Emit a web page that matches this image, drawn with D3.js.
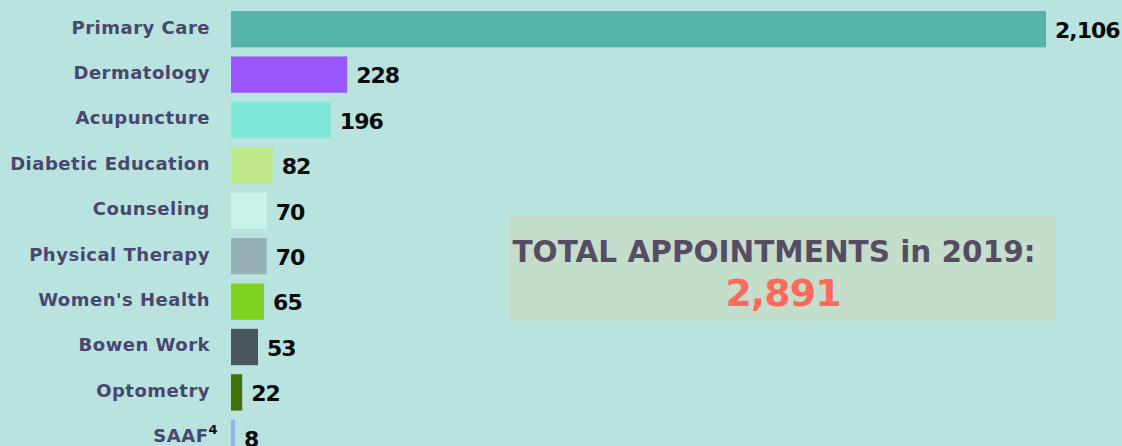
<!DOCTYPE html>
<html>
<head>
<meta charset="utf-8">
<script src="https://cdn.jsdelivr.net/npm/d3@7"></script>
<style>
  html, body { margin: 0; padding: 0; background: #b9e3de; }
  svg { display: block; }
</style>
</head>
<body>
<div id="chart"></div>
<script>
// appointments by service, 2019
const services = ['Primary Care', 'Dermatology', 'Acupuncture', 'Diabetic Education', 'Counseling',
  'Physical Therapy', "Women's Health", 'Bowen Work', 'Optometry', 'SAAF'];
const appointments = [2106, 228, 196, 82, 70, 70, 65, 53, 22, 8];
const barColors = ['#54b3aa', '#9a55fc', '#7de8da', '#bde98a', '#c9f3e9',
  '#95b1b5', '#7ed321', '#485559', '#437007', '#8fb4f0'];
const footnotes = { 'SAAF': '4' };
const totalLabel = 'TOTAL APPOINTMENTS in 2019:';
const totalValue = 2891;

const W = 1122, H = 446;
const margin = { left: 231 };
const font = "'DejaVu Sans', sans-serif";

const svg = d3.select('#chart')
  .append('svg')
    .attr('width', W)
    .attr('height', H);

svg.append('rect')
  .attr('width', W)
  .attr('height', H)
  .attr('fill', '#b9e3de');

const data = services.map((s, i) => ({ name: s, value: appointments[i], color: barColors[i] }));

// top bar runs past the visible scale (race-style frame), so clamp it
const x = d3.scaleLinear()
  .domain([0, 1600])
  .range([margin.left, margin.left + 815])
  .clamp(true);

const y = d3.scaleBand()
  .domain(services)
  .range([6.5, 460.5])
  .paddingInner(0.2)
  .paddingOuter(0.1);

const fmt = d3.format(',');

svg.selectAll('rect.bar')
  .data(data)
  .enter()
  .append('rect')
    .attr('class', 'bar')
    .attr('x', x(0))
    .attr('y', d => y(d.name))
    .attr('width', d => Math.max(1.5, x(d.value) - x(0)))
    .attr('height', y.bandwidth())
    .attr('fill', d => d.color);

// category labels
const labels = svg.selectAll('text.label')
  .data(data)
  .enter()
  .append('text')
    .attr('class', 'label')
    .attr('x', d => footnotes[d.name] ? 218 : 210)
    .attr('y', d => y(d.name) + y.bandwidth() / 2 - 2)
    .attr('dy', '0.35em')
    .attr('text-anchor', 'end')
    .style('font-family', font)
    .style('font-weight', 'bold')
    .style('font-size', '18px')
    .style('letter-spacing', '0.5px')
    .attr('fill', '#4a4670')
    .text(d => d.name);

labels.filter(d => footnotes[d.name])
  .append('tspan')
    .attr('dy', '-0.6em')
    .style('font-size', '13px')
    .attr('fill', '#111')
    .text(d => footnotes[d.name]);

// value labels
svg.selectAll('text.value')
  .data(data)
  .enter()
  .append('text')
    .attr('class', 'value')
    .attr('x', d => x(d.value) + 9)
    .attr('y', d => y(d.name) + y.bandwidth() / 2 + 1)
    .attr('dy', '0.35em')
    .style('font-family', font)
    .style('font-weight', 'bold')
    .style('font-size', '22px')
    .style('letter-spacing', '-1px')
    .attr('fill', '#0b0b0b')
    .text(d => fmt(d.value));

// total box
const box = svg.append('g');
box.append('rect')
  .attr('x', 510)
  .attr('y', 216)
  .attr('width', 545)
  .attr('height', 106)
  .attr('fill', '#c4decb');

box.append('text')
  .attr('x', 774)
  .attr('y', 262)
  .attr('text-anchor', 'middle')
  .style('font-family', font)
  .style('font-weight', 'bold')
  .style('font-size', '29.5px')
  .attr('fill', '#574c63')
  .text(totalLabel);

box.append('text')
  .attr('x', 783)
  .attr('y', 306)
  .attr('text-anchor', 'middle')
  .style('font-family', font)
  .style('font-weight', 'bold')
  .style('font-size', '38px')
  .style('letter-spacing', '-1px')
  .attr('fill', '#fe6a5a')
  .text(fmt(totalValue));
</script>
</body>
</html>
